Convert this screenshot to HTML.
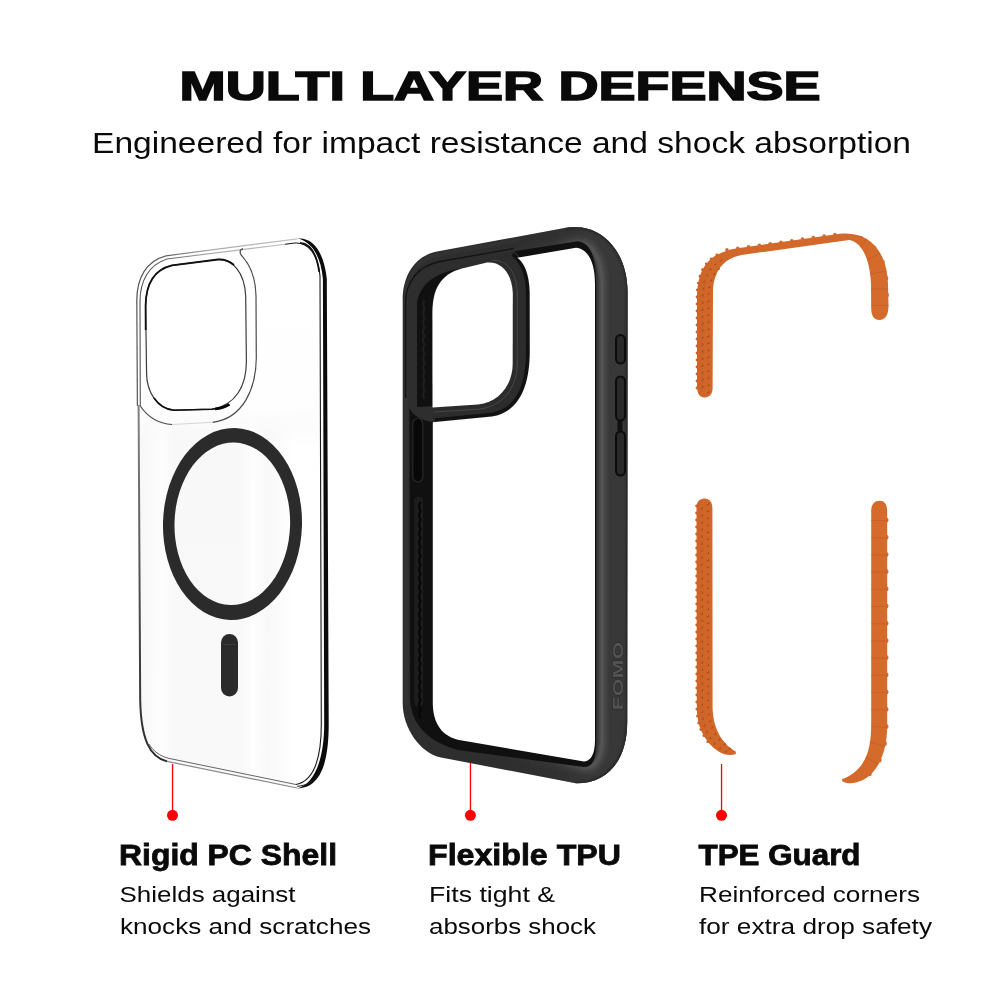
<!DOCTYPE html>
<html lang="en">
<head>
<meta charset="utf-8">
<title>Multi Layer Defense</title>
<style>
html,body{margin:0;padding:0;background:#fff;}
body{width:1000px;height:1000px;overflow:hidden;position:relative;font-family:"Liberation Sans",sans-serif;}
svg{position:absolute;left:0;top:0;display:block;will-change:transform;}
.t{font-family:"Liberation Sans",sans-serif;fill:#0a0a0a;}
.h{font-weight:700;}
</style>
</head>
<body>
<svg width="1000" height="1000" viewBox="0 0 1000 1000">
<rect width="1000" height="1000" fill="#fff"/>
<!-- HEADINGS -->
<g id="headings">
<text class="t h" x="179.5" y="100.3" font-size="41" textLength="641" lengthAdjust="spacingAndGlyphs" stroke="#0a0a0a" stroke-width="1.6" stroke-linejoin="miter">MULTI LAYER DEFENSE</text>
<text class="t" x="92" y="153" font-size="30" textLength="819" lengthAdjust="spacingAndGlyphs">Engineered for impact resistance and shock absorption</text>
</g>
<g id="clear">
<defs>
<linearGradient id="cBody" x1="0" y1="240" x2="0" y2="790" gradientUnits="userSpaceOnUse">
<stop offset="0" stop-color="#ffffff"/><stop offset="0.3" stop-color="#fefefe"/><stop offset="0.36" stop-color="#f8f8f8"/><stop offset="1" stop-color="#f9f9f9"/>
</linearGradient>
<linearGradient id="cStreak" x1="140" y1="0" x2="322" y2="0" gradientUnits="userSpaceOnUse">
<stop offset="0" stop-color="#fff" stop-opacity="0"/><stop offset="0.12" stop-color="#fff" stop-opacity="0.7"/><stop offset="0.2" stop-color="#fff" stop-opacity="0"/>
<stop offset="0.55" stop-color="#fff" stop-opacity="0"/><stop offset="0.62" stop-color="#fff" stop-opacity="0.8"/><stop offset="0.7" stop-color="#fff" stop-opacity="0.1"/>
<stop offset="0.85" stop-color="#fff" stop-opacity="0.9"/><stop offset="1" stop-color="#fff" stop-opacity="0.9"/>
</linearGradient>
<linearGradient id="cLeft" x1="0" y1="250" x2="0" y2="760" gradientUnits="userSpaceOnUse">
<stop offset="0" stop-color="#8a8a8a"/><stop offset="0.35" stop-color="#808080"/><stop offset="0.7" stop-color="#4a4a4a"/><stop offset="1" stop-color="#2a2a2a"/>
</linearGradient>
<linearGradient id="cFadeV" x1="0" y1="405" x2="0" y2="445" gradientUnits="userSpaceOnUse"><stop offset="0" stop-color="#000"/><stop offset="1" stop-color="#fff"/></linearGradient>
<mask id="cMask" maskUnits="userSpaceOnUse" x="130" y="230" width="210" height="570"><rect x="130" y="230" width="210" height="570" fill="url(#cFadeV)"/></mask>
<linearGradient id="cTop" x1="137" y1="0" x2="300" y2="0" gradientUnits="userSpaceOnUse"><stop offset="0" stop-color="#505050"/><stop offset="0.2" stop-color="#6a6a6a"/><stop offset="0.45" stop-color="#a8a8a8"/><stop offset="1" stop-color="#c4c4c4"/></linearGradient>
</defs>
<!-- body -->
<path d="M136.8,300 C137,278 146,261 166,255.8 L297.5,238.8 C313,237 324,252 326.6,279 L328.5,724 C328.5,760 322,788 297,788 L167,761.4 C150,757 141,740 140,700 Z" fill="url(#cBody)"/>
<path mask="url(#cMask)" d="M141,400 L321,400 L321,724 C321,757 314,781 296,784.5 L168,758.6 C153,754.5 143.5,738 142.6,700 Z" fill="url(#cStreak)"/>
<!-- thick right edge -->
<path d="M297.5,238.6 C313,237 324,252 326.8,279 L328.7,724 C328.7,760 322,788 297,788.4 C313,785 324.2,762 324.2,724 L322.9,279 C320.8,255 311,241.5 297.5,238.6 Z" fill="#0b0b0b"/>
<!-- outer outline: top (light), left (gradient), bottom (mid) -->
<path d="M136.8,300 C137,278 146,261 166,255.8 L297.5,238.8" fill="none" stroke="url(#cTop)" stroke-width="1.2"/>
<path d="M136.8,300 L137.4,406" fill="none" stroke="#555" stroke-width="1.2"/>
<path d="M138.6,405 L140.2,700 C141,740 150,757 167,761.4" fill="none" stroke="url(#cLeft)" stroke-width="2"/>
<path d="M167,761.4 L297,788" fill="none" stroke="#8a8a8a" stroke-width="1.2"/>
<!-- inner parallel outline -->
<path d="M140.3,406 L140,301 C140.2,281 148.5,265 167,259 L285,244.2" fill="none" stroke="url(#cTop)" stroke-width="1.1"/>
<path d="M285,244.2 L294.8,243 C308,242 318,254 320,276 L321.3,724 C321.3,757 314,781 296,784.5" fill="none" stroke="#1a1a1a" stroke-width="1.1"/>
<path d="M300,242.9 C311,243.5 317,256 319.2,272" fill="none" stroke="#111" stroke-width="1.8"/>
<path d="M296,784.5 L168,758.2 C160,756 153,751 149,744" fill="none" stroke="#666" stroke-width="1"/>
<path d="M318,775 C314,781.5 307,785.5 297,786.3" fill="none" stroke="#222" stroke-width="1"/>
<!-- camera ring outer -->
<path d="M243,248.6 C238.8,250 239.6,253.6 242.5,256.6 C250,265 255.6,277 256,296 L256.3,358 C256,389 243,418.5 212.5,422.3" fill="none" stroke="#4a4a4a" stroke-width="1.2"/>
<path d="M212.5,422.3 L172,424.5" fill="none" stroke="#d6d6d6" stroke-width="1"/>
<path d="M172,424.5 C157,423.5 147,416 140.3,406" fill="none" stroke="#4a4a4a" stroke-width="1.2"/>
<!-- camera inner cutout -->
<path d="M145.6,306 C145.8,287 152,270 172,265.3 L218,259.5 C232,258.8 244.5,272 245.7,296 L246.4,362 C246.2,386 236,405 212,409.2 L174,410.2 C156,409 146.8,390 146.6,374 Z" fill="#fff" stroke="#3c3c3c" stroke-width="1.2"/>
<path d="M145.7,330 L145.6,306 C145.8,287 152,270 172,265.3 L218,259.5 C225,259.2 230,261.5 234,265" fill="none" stroke="#111" stroke-width="1.8"/>
<path d="M229,404.6 C224,407.4 218.5,408.6 212,409.2 L174,410.2 C165,409.6 158.5,404.5 154,398" fill="none" stroke="#111" stroke-width="1.6"/>
<path d="M229.5,404.3 C225,407 220,408.4 215,409" fill="none" stroke="#050505" stroke-width="2.6"/>
<!-- magsafe -->
<g transform="rotate(1.5 232.5 524)">
<path fill-rule="evenodd" fill="#2b2b2b" d="M163,524 a69.5,96 0 1,0 139,0 a69.5,96 0 1,0 -139,0 Z M174.5,523.8 a57.8,81.3 0 1,0 115.6,0 a57.8,81.3 0 1,0 -115.6,0 Z"/>
</g>
<rect x="221" y="634" width="17" height="62.5" rx="8.5" fill="#2b2b2b"/>
<path d="M223,644.5 L236,644.5" stroke="#444" stroke-width="0.7"/>
</g>
<g id="bumper">
<defs>
<clipPath id="bClip"><path d="M402.7,300 C402.7,275 415,256 437,251.5 L566,227.7 C600,222 627.5,250 627.5,292 L627.2,722 C627.2,760 608,783.5 576,783.3 L441,757.5 C420,753 402.7,728 402.7,703 Z"/></clipPath>
<linearGradient id="bFade" x1="500" y1="0" x2="597" y2="0" gradientUnits="userSpaceOnUse">
<stop offset="0" stop-color="#fff" stop-opacity="0"/><stop offset="0.55" stop-color="#fff" stop-opacity="0.25"/><stop offset="0.95" stop-color="#fff" stop-opacity="1"/>
</linearGradient>
<mask id="bMask" maskUnits="userSpaceOnUse" x="380" y="200" width="280" height="620"><rect x="380" y="200" width="280" height="620" fill="url(#bFade)"/></mask>
<filter id="bBlur" filterUnits="userSpaceOnUse" x="380" y="200" width="280" height="620"><feGaussianBlur stdDeviation="1.1"/></filter>
<filter id="bBlur2" filterUnits="userSpaceOnUse" x="380" y="200" width="280" height="620"><feGaussianBlur stdDeviation="0.6"/></filter>
</defs>
<!-- outer silhouette -->
<path d="M402.7,300 C402.7,275 415,256 437,251.5 L566,227.7 C600,222 627.5,250 627.5,292 L627.2,722 C627.2,760 608,783.5 576,783.3 L441,757.5 C420,753 402.7,728 402.7,703 Z" fill="#2e2e2e"/>
<g clip-path="url(#bClip)">
<!-- lit right wall: layered strokes hugging inner opening edge -->
<g mask="url(#bMask)" filter="url(#bBlur)" fill="none" stroke-linejoin="round">
<path d="M500,260.6 L576,247.8 C588,249 595,262 595,284 L595,740 C595,752 592,761 584,761.5 L500,747" stroke="#383838" stroke-width="80"/>
<path d="M500,260.6 L576,247.8 C588,249 595,262 595,284 L595,740 C595,752 592,761 584,761.5 L500,747" stroke="#434343" stroke-width="26"/>
<path d="M500,260.6 L576,247.8 C588,249 595,262 595,284 L595,740 C595,752 592,761 584,761.5 L500,747" stroke="#555" stroke-width="18"/>
<path d="M500,260.6 L576,247.8 C588,249 595,262 595,284 L595,740 C595,752 592,761 584,761.5 L500,747" stroke="#3a3a3a" stroke-width="9"/>
<path d="M500,260.6 L576,247.8 C588,249 595,262 595,284 L595,740 C595,752 592,761 584,761.5 L500,747" stroke="#262626" stroke-width="3.5"/>
</g>
<!-- right outer edge slightly darker -->
<path d="M566,227.7 C600,222 627.5,250 627.5,292 L627.2,722 C627.2,760 608,783.5 576,783.3" fill="none" stroke="#262626" stroke-width="3" filter="url(#bBlur)"/>
<!-- left rim highlight -->
<path d="M406,705 L406,300 C406,277 417,259 438,254.8 L520,240" fill="none" stroke="#363636" stroke-width="2.5" filter="url(#bBlur)"/>
<!-- inner dark region (inside faces) -->
<path d="M417,306 C417,289 431,273.5 458,269 L514,256 L514,251.3 L578,241.3 C590,243 596,255 596,284 L596,745 C596,760 592,767 584,767 L458,750 C432,743 411.5,727 410,700 L409.5,408 C413,416 422,421.5 436,422.3 L436,406 L417,407 Z" fill="#101010"/>
<!-- left wall groove texture -->
<path d="M418.6,501 L418.6,702" stroke="#1c1c1c" stroke-width="9" stroke-linecap="round" fill="none"/>
<path d="M420.6,502 q-3,4.5 0,9 q-3,4.5 0,9 q-3,4.5 0,9 q-3,4.5 0,9 q-3,4.5 0,9 q-3,4.5 0,9 q-3,4.5 0,9 q-3,4.5 0,9 q-3,4.5 0,9 q-3,4.5 0,9 q-3,4.5 0,9 q-3,4.5 0,9 q-3,4.5 0,9 q-3,4.5 0,9 q-3,4.5 0,9 q-3,4.5 0,9 q-3,4.5 0,9 q-3,4.5 0,9 q-3,4.5 0,9 q-3,4.5 0,9 q-3,4.5 0,9 q-3,4.5 0,9 q-3,4.5 0,9 q-3,4.5 0,9" fill="none" stroke="#070707" stroke-width="2.2"/>
<!-- slot on left wall -->
<rect x="412.8" y="418.5" width="10" height="63.5" rx="5" fill="#080808" stroke="#2a2a2a" stroke-width="1.2"/>
<!-- camera-side texture visible through hole -->
<path d="M424.5,300 q-3,4.5 0,9 q-3,4.5 0,9 q-3,4.5 0,9 q-3,4.5 0,9 q-3,4.5 0,9 q-3,4.5 0,9 q-3,4.5 0,9 q-3,4.5 0,9 q-3,4.5 0,9 q-3,4.5 0,9 q-3,4.5 0,9" fill="none" stroke="#1d1d1d" stroke-width="2.5"/>
</g>
<path d="M405.6,398 L405.6,303 C405.6,283 417,266 440,261.5 L514,248.5" fill="none" stroke="#131313" stroke-width="1.4" filter="url(#bBlur2)"/>
<!-- camera ring (lit) -->
<path d="M514.3,251 C522,258 529.4,272 529.7,292 L529.8,352 C529.6,385 520,412 492,416.4 L435,422 L432.8,422.4 L432.6,404.4 L478,401.6 C497,399.5 509.5,383 509.7,364 L509.8,293 C509,275 500,264 487,265.6 L462,271.4 L461,265.2 L487,259.2 Z" fill="#2c2c2c"/>
<path d="M512.6,254 C521,261 527.4,274 527.7,292 L527.8,352 C527.6,384 518.5,410 491.6,414.5 L435,420" fill="none" stroke="#121212" stroke-width="3.6"/>
<path d="M492,260.3 C508,259.5 516.6,273 517.3,293 L517.2,364 C517,388 503,406.5 478.5,409.2 L434,412" fill="none" stroke="#474747" stroke-width="1" filter="url(#bBlur2)"/>
<!-- top rim → camera ring connection highlight -->
<!-- main opening -->
<path d="M432.8,422.2 L432.8,704.5 C433.5,728 446,738 462,740.5 L584,761.5 C592,761 595,752 595,740 L595,284 C595,262 588,249 576,247.8 L517.3,257.7 C524,262 529.4,274 529.7,292 L529.8,352 C529.6,385 520,412 492,416.4 L435,422 Z" fill="#fff"/>
<!-- camera hole -->
<path d="M432.5,407.4 L432.4,312 C432.5,290 440,274 462,268.4 L487,262.6 C501,261 512,273 512.8,293 L512.7,364 C512.5,384 500,402 478,404.6 Z" fill="#fff"/>
<!-- buttons -->
<g fill="#292929" stroke="#0c0c0c" stroke-width="2">
<rect x="616" y="335" width="9" height="28.5" rx="4.5"/>
<rect x="616" y="376.5" width="9" height="44" rx="4.5"/>
<rect x="616" y="431.5" width="9" height="44" rx="4.5"/>
</g>
<rect x="617.5" y="421" width="5" height="10" fill="#111"/>
<!-- brand emboss -->
<text transform="translate(622.8 710.3) rotate(-90)" font-family="'Liberation Sans',sans-serif" font-weight="700" font-size="14.6" textLength="68.5" lengthAdjust="spacingAndGlyphs" fill="#525252" stroke="#222" stroke-width="0.5" paint-order="stroke">FOMO</text>
</g>
<g id="tpe">
<defs>
<linearGradient id="oGrad" x1="690" y1="0" x2="895" y2="0" gradientUnits="userSpaceOnUse">
<stop offset="0" stop-color="#cb6127"/><stop offset="0.1" stop-color="#d16729"/><stop offset="0.85" stop-color="#d3692a"/><stop offset="1" stop-color="#d66c2c"/>
</linearGradient>
<path id="oTop" d="M704.5,397.5 C699.5,397.5 697,393 697,386 L697,300 C697,276 703,260 722,252.5 C728,250 732,249 736,248.5 L840,233.8 C868,230.5 887,250 888,284 L888.5,306 C888.5,315 885,320 879.5,320 C874,320 871.2,316 871.2,308 L871,284 C870,258 861,241.5 849,240 L741.5,255 C726,258 714.5,268 713,290 L712.6,388 C712.6,394 709.5,397.5 704.5,397.5 Z"/>
<path id="oBL" d="M704.3,498.6 C709.5,498.6 712.4,502 712.4,508 L712.6,708 C713,728 722,744 735.8,751.5 L735.8,754 C727,757.5 716,752 708,742 C700,731 697,722 696.8,706 L696.5,508 C696.5,502 699.5,498.6 704.3,498.6 Z"/>
<path id="oBR" d="M879.7,500.8 C884.5,500.8 887.2,504.5 887.2,511 L887.2,726 C887,752 878.5,771 864,779.5 C856,783.5 848,784.5 842.5,781.5 L842,779 C855,775 866,764 869.5,745 C871,737 871.2,730 871.2,722 L871.2,511 C871.2,504.5 874.5,500.8 879.7,500.8 Z"/>
<clipPath id="oClipTop"><use href="#oTop"/></clipPath>
<clipPath id="oClipBR"><use href="#oBR"/></clipPath>
</defs>
<!-- scalloped edges (round-cap dotted strokes in body colour, drawn under bodies) -->
<g fill="none" stroke-linecap="round">
<path d="M697,388 L697,300 C697,276 703,260 722,252.5" stroke="#cb6127" stroke-width="2.8" stroke-dasharray="0 7"/>
<path d="M727,249.9 L840,233.8" stroke="#d3692a" stroke-width="3.6" stroke-dasharray="0 10.9"/>
<path d="M860.5,238.5 C876,245.5 885.3,261 886,284 L886.4,308" stroke="#d66c2c" stroke-width="5.4" stroke-dasharray="0 16.5"/>
<path d="M696.6,506 L696.8,706 C697,722 700,731 708,742" stroke="#cb6127" stroke-width="2.8" stroke-dasharray="0 7"/>
<path d="M886,520 L886,726 C885.8,751 877.5,770 863,778.5" stroke="#d66c2c" stroke-width="5" stroke-dasharray="0 17.2"/>
</g>
<g fill="url(#oGrad)"><use href="#oTop"/><use href="#oBL"/><use href="#oBR"/></g>
<g fill="none" stroke-linecap="round">
<!-- stud dots, two columns -->
<path d="M702.3,390 L702.3,300 C702.5,281 707,267 722,259.5" stroke="#ad4d1b" stroke-width="2.5" stroke-dasharray="0 7" stroke-dashoffset="3.5"/>
<path d="M708.2,392 L708.2,298 C708.6,283 712,273 722,266" stroke="#ad4d1b" stroke-width="2.5" stroke-dasharray="0 7"/>
<path d="M701.8,505 L702,708 C702.3,724 706,735 717,746.5 L728,752.5" stroke="#ad4d1b" stroke-width="2.5" stroke-dasharray="0 7" stroke-dashoffset="3.5"/>
<path d="M707.8,504 L708,708 C708.4,722 712,732 721,741 L731,750" stroke="#ad4d1b" stroke-width="2.5" stroke-dasharray="0 7"/>
<!-- highlight specks on studs -->
<path d="M701.8,389.5 L701.8,300 C702,281 706.5,266.5 721.5,259" stroke="#e0803f" stroke-width="1.2" stroke-dasharray="0 7" stroke-dashoffset="3.5"/>
<path d="M707.7,391.5 L707.7,298 C708.1,283 711.5,272.5 721.5,265.5" stroke="#e0803f" stroke-width="1.2" stroke-dasharray="0 7"/>
<path d="M701.3,504.5 L701.5,708 C701.8,724 705.5,734.5 716.5,746 L727.5,752" stroke="#e0803f" stroke-width="1.2" stroke-dasharray="0 7" stroke-dashoffset="3.5"/>
<path d="M707.3,503.5 L707.5,708 C707.9,722 711.5,731.5 720.5,740.5 L730.5,749.5" stroke="#e0803f" stroke-width="1.2" stroke-dasharray="0 7"/>
</g>
<!-- rib shading on right pieces -->
<g fill="none" stroke="#c25a22" opacity="0.6">
<path clip-path="url(#oClipBR)" d="M879.8,520 L879.8,724 C879.6,744 873,762 860,772" stroke-width="20" stroke-dasharray="1 16.2"/>
<path clip-path="url(#oClipTop)" d="M862,244.5 C874,252 879,266 879.6,284 L879.8,312" stroke-width="20" stroke-dasharray="1 15.5"/>
</g>
</g>
<!-- CALLOUTS -->
<g id="callouts" fill="#ff0000" stroke="none">
<rect x="171.9" y="764" width="1.3" height="50"/><circle cx="172.5" cy="815.3" r="5.5"/>
<rect x="469.8" y="763" width="1.3" height="51"/><circle cx="470.4" cy="815.3" r="5.5"/>
<rect x="720.9" y="764" width="1.3" height="50"/><circle cx="721.5" cy="815.3" r="5.5"/>
</g>
<!-- LABELS -->
<g id="labels">
<text class="t h" stroke="#0a0a0a" stroke-width="0.8" x="119" y="864.8" font-size="29.5" textLength="218" lengthAdjust="spacingAndGlyphs">Rigid PC Shell</text>
<text class="t" x="119.5" y="902.2" font-size="22.4" textLength="176" lengthAdjust="spacingAndGlyphs">Shields against</text>
<text class="t" x="120" y="934.2" font-size="22.4" textLength="251" lengthAdjust="spacingAndGlyphs">knocks and scratches</text>
<text class="t h" stroke="#0a0a0a" stroke-width="0.8" x="428" y="864.8" font-size="29.5" textLength="193" lengthAdjust="spacingAndGlyphs">Flexible TPU</text>
<text class="t" x="429" y="902.2" font-size="22.4" textLength="126" lengthAdjust="spacingAndGlyphs">Fits tight &amp;</text>
<text class="t" x="429" y="934.2" font-size="22.4" textLength="167" lengthAdjust="spacingAndGlyphs">absorbs shock</text>
<text class="t h" stroke="#0a0a0a" stroke-width="0.8" x="698.5" y="864.8" font-size="29.5" textLength="162" lengthAdjust="spacingAndGlyphs">TPE Guard</text>
<text class="t" x="699" y="902.2" font-size="22.4" textLength="221" lengthAdjust="spacingAndGlyphs">Reinforced corners</text>
<text class="t" x="699" y="934.2" font-size="22.4" textLength="233" lengthAdjust="spacingAndGlyphs">for extra drop safety</text>
</g>
</svg>
</body>
</html>
